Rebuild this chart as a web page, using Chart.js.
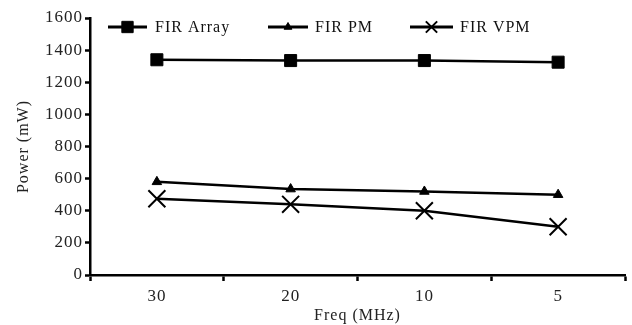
<!DOCTYPE html>
<html><head><meta charset="utf-8">
<script src="https://cdn.jsdelivr.net/npm/chart.js@4.4.0/dist/chart.umd.min.js"></script>
<style>html,body{margin:0;padding:0;background:#fff}#wrap{width:632px;height:325px}</style>
</head><body><div id="wrap"><canvas id="c" width="632" height="325"></canvas></div>
<script>
const categories = ["30", "20", "10", "5"];
const firArray = [1340, 1335, 1335, 1325];
const firPM = [580, 535, 520, 500];
const firVPM = [475, 440, 400, 300];
const yTicks = [0, 200, 400, 600, 800, 1000, 1200, 1400, 1600];
const seriesNames = ["FIR Array", "FIR PM", "FIR VPM"];

const FONT = "'Liberation Serif', 'Times New Roman', serif";
const SPACING = '1px';

const spacingPlugin = {
  id: 'spacing',
  beforeInit(chart) { chart.ctx.letterSpacing = SPACING; },
  beforeUpdate(chart) { chart.ctx.letterSpacing = SPACING; },
  beforeDraw(chart) { chart.ctx.letterSpacing = SPACING; }
};

const legendPlugin = {
  id: 'customLegend',
  afterDraw(chart) {
    const ctx = chart.ctx;
    const items = [
      {x1: 108, x2: 147, tx: 155},
      {x1: 268, x2: 308, tx: 315},
      {x1: 410, x2: 453, tx: 460}
    ];
    const y = 27;
    chart.data.datasets.forEach((ds, i) => {
      const it = items[i];
      ctx.save();
      ctx.strokeStyle = '#000';
      ctx.lineWidth = 3;
      ctx.beginPath(); ctx.moveTo(it.x1, y); ctx.lineTo(it.x2, y); ctx.stroke();
      ctx.fillStyle = '#000';
      ctx.lineWidth = ds.pointBorderWidth;
      Chart.helpers.drawPoint(ctx, {pointStyle: ds.pointStyle, radius: ds.legendRadius, rotation: 0, borderWidth: ds.pointBorderWidth}, (it.x1 + it.x2) / 2, y);
      ctx.fillStyle = '#111';
      ctx.font = "16px " + FONT;
      ctx.letterSpacing = SPACING;
      ctx.textBaseline = 'middle';
      ctx.textAlign = 'left';
      ctx.fillText(ds.label, it.tx, y + 1);
      ctx.restore();
    });
  }
};

new Chart(document.getElementById('c'), {
  type: 'line',
  data: {
    labels: categories,
    datasets: [
      {label: seriesNames[0], data: firArray, pointStyle: 'rect', pointRadius: 8.5, legendRadius: 8, pointBorderWidth: 1, borderColor: '#000', backgroundColor: '#000', pointBackgroundColor: '#000', borderWidth: 2.5},
      {label: seriesNames[1], data: firPM, pointStyle: 'triangle', pointRadius: 5.5, legendRadius: 4.5, pointBorderWidth: 1, borderColor: '#000', backgroundColor: '#000', pointBackgroundColor: '#000', borderWidth: 2.5},
      {label: seriesNames[2], data: firVPM, pointStyle: 'crossRot', pointRadius: 12, legendRadius: 8, pointBorderWidth: 2, borderColor: '#000', backgroundColor: '#000', pointBackgroundColor: '#000', borderWidth: 2.5}
    ]
  },
  options: {
    responsive: false,
    animation: false,
    layout: {autoPadding: false, padding: {top: 18, right: 7, left: 14, bottom: 0}},
    plugins: {legend: {display: false}, tooltip: {enabled: false}},
    elements: {line: {tension: 0}},
    scales: {
      x: {
        type: 'category',
        offset: true,
        grid: {offset: true, drawOnChartArea: false, drawTicks: true, tickLength: 6, tickWidth: 2.5, tickColor: '#000'},
        border: {display: true, color: '#000', width: 2.5},
        ticks: {color: '#222', font: {family: FONT, size: 17}, padding: 5, maxRotation: 0},
        title: {display: true, text: 'Freq (MHz)', color: '#222', font: {family: FONT, size: 16}, padding: {top: 2, bottom: 0}},
        afterFit(s) { s.height = 50; }
      },
      y: {
        min: 0, max: 1600,
        afterBuildTicks(s) { s.ticks = yTicks.map(v => ({value: v})); },
        grid: {drawOnChartArea: false, drawTicks: true, tickLength: 5, tickWidth: 2.5, tickColor: '#000'},
        border: {display: true, color: '#000', width: 2.5},
        ticks: {color: '#222', font: {family: FONT, size: 17}, padding: 2, callback: v => String(v)},
        title: {display: true, text: 'Power (mW)', color: '#222', font: {family: FONT, size: 16}, padding: {top: 0, bottom: 0}},
        afterFit(s) { s.width = 76; }
      }
    }
  },
  plugins: [spacingPlugin, legendPlugin]
});
</script>
</body></html>
